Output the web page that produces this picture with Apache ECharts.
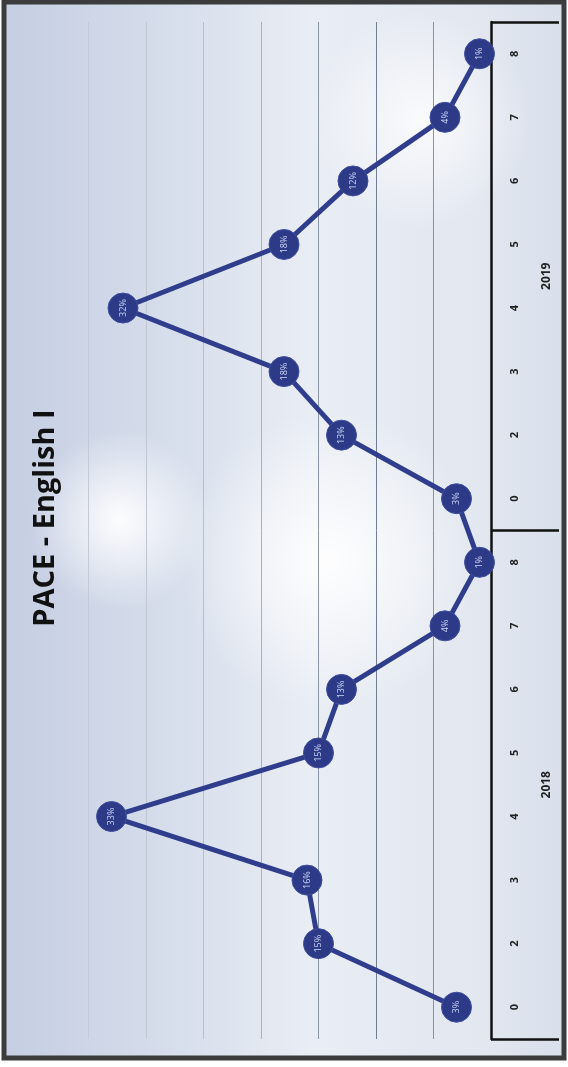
<!DOCTYPE html>
<html><head><meta charset="utf-8">
<script src="https://cdn.jsdelivr.net/npm/echarts@6/dist/echarts.min.js"></script>
<style>html,body{margin:0;padding:0;background:#fff}#c{width:568px;height:1067px}</style>
</head><body><div id="c"></div>
<script>
const titleText = 'PACE - English I';
const years = ['2018', '2019'];
const grades = ['0', '2', '3', '4', '5', '6', '7', '8'];
const values2018 = [3, 15, 16, 33, 15, 13, 4, 1];
const values2019 = [3, 13, 18, 32, 18, 12, 4, 1];
const valueTicks = [0, 5, 10, 15, 20, 25, 30, 35, 40];

const categories = grades.concat(grades);
const values = values2018.concat(values2019);

const chart = echarts.init(document.getElementById('c'));
chart.setOption({
  animation: false,
  backgroundColor: '#ffffff',
  graphic: [
    { type: 'rect', z: -20, shape: { x: 5, y: 3, width: 558, height: 1054 },
      style: { fill: new echarts.graphic.LinearGradient(0, 0, 1, 0, [
        { offset: 0, color: '#c5cee2' }, { offset: 0.25, color: '#d3dbea' },
        { offset: 0.55, color: '#e9edf4' }, { offset: 0.85, color: '#e2e7f0' }, { offset: 1, color: '#d9dfeb' }]) } },
    { type: 'ellipse', z: -19, shape: { cx: 330, cy: 560, rx: 150, ry: 330 },
      style: { fill: new echarts.graphic.RadialGradient(0.5, 0.5, 0.5, [
        { offset: 0, color: 'rgba(255,255,255,0.95)' }, { offset: 1, color: 'rgba(255,255,255,0)' }]) } },
    { type: 'ellipse', z: -19, shape: { cx: 120, cy: 520, rx: 90, ry: 200 },
      style: { fill: new echarts.graphic.RadialGradient(0.5, 0.5, 0.5, [
        { offset: 0, color: 'rgba(255,255,255,0.95)' }, { offset: 1, color: 'rgba(255,255,255,0)' }]) } },
    { type: 'ellipse', z: -19, shape: { cx: 420, cy: 120, rx: 130, ry: 110 },
      style: { fill: new echarts.graphic.RadialGradient(0.5, 0.5, 0.5, [
        { offset: 0, color: 'rgba(255,255,255,0.8)' }, { offset: 1, color: 'rgba(255,255,255,0)' }]) } },
    { type: 'rect', z: 50, shape: { x: 4, y: 2, width: 560, height: 1056 },
      style: { fill: null, stroke: '#3c3c3c', lineWidth: 5 } },
    { type: 'text', z: 50, x: 46, y: 518, rotation: Math.PI / 2,
      style: { text: titleText, font: 'bold 29px "Open Sans", sans-serif', fill: '#111',
        textAlign: 'center', textVerticalAlign: 'middle' } }
  ],
  grid: { left: 31, right: 77, top: 22, bottom: 28 },
  xAxis: {
    type: 'value', inverse: true, min: valueTicks[0], max: valueTicks[valueTicks.length - 1], interval: 5,
    axisLabel: { show: false }, axisLine: { show: false }, axisTick: { show: false },
    splitLine: { show: true, showMinLine: false, showMaxLine: false,
      lineStyle: { width: 1, color: ['#8893a6', '#6f7d95', '#8a95a8', '#a9b1c0', '#b8bfcc', '#c0c6d2', '#c4cad5', '#c6ccd7', '#c6ccd7'] } }
  },
  yAxis: [
    {
      type: 'category', position: 'right', data: categories, boundaryGap: true,
      axisLine: { show: true, lineStyle: { color: '#111', width: 2.5 } },
      axisTick: { show: false },
      axisLabel: { rotate: 90, margin: 18, fontSize: 11, fontWeight: 'bold', color: '#222', fontFamily: 'Open Sans' },
      splitLine: { show: false }
    },
    {
      type: 'category', position: 'right', data: years, boundaryGap: true,
      axisLine: { show: false },
      axisTick: { show: true, length: 68, alignWithLabel: false, lineStyle: { color: '#111', width: 2.5 } },
      axisLabel: { rotate: 90, margin: 50, fontSize: 12, fontWeight: 'bold', color: '#222', fontFamily: 'Open Sans' },
      splitLine: { show: false }
    }
  ],
  series: [{
    type: 'line', yAxisIndex: 0, data: values,
    symbol: 'circle', symbolSize: 30,
    lineStyle: { color: '#2f3d8c', width: 5 },
    itemStyle: { color: '#2c3a88', borderColor: '#3f4f9e', borderWidth: 1 },
    label: { show: true, position: 'inside', rotate: 90, formatter: '{c}%',
      color: '#cdd8f5', fontSize: 9, fontFamily: 'Open Sans' },
    z: 5
  }]
});
</script></body></html>
